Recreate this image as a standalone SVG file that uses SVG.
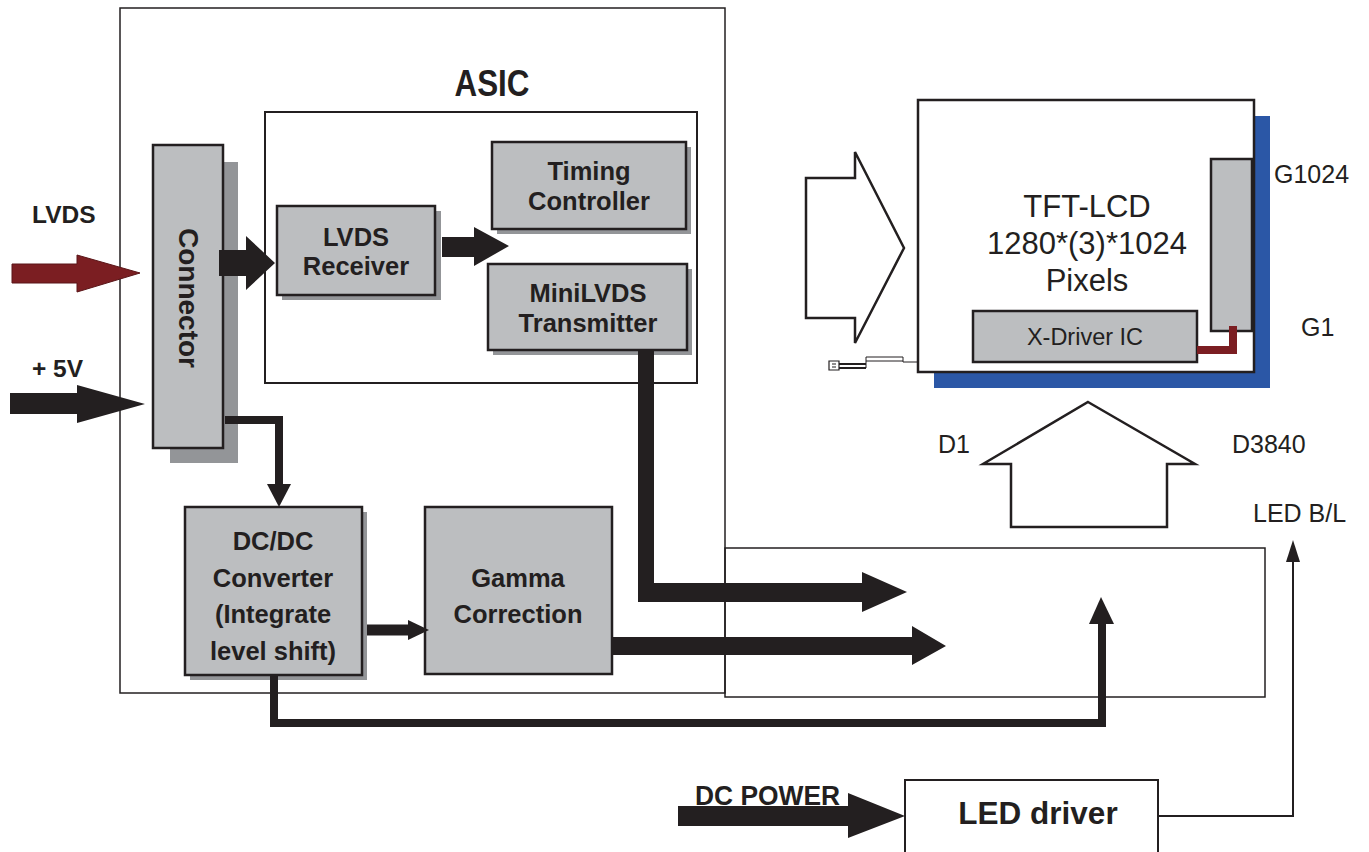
<svg xmlns="http://www.w3.org/2000/svg" width="1369" height="852" viewBox="0 0 1369 852">
<style>
.frame{fill:none;stroke:#231f20;stroke-width:1.5}
.box{fill:#bcbec0;stroke:#231f20;stroke-width:2.5}
.sh{fill:#939598}
.bt{font-family:"Liberation Sans",Arial,sans-serif;font-weight:bold;font-size:25.5px;fill:#231f20;text-anchor:middle}
.rt{font-family:"Liberation Sans",Arial,sans-serif;font-size:25px;fill:#231f20}
.blk{fill:#231f20}
.ln{fill:none;stroke:#231f20;stroke-linejoin:miter}
.outl{fill:#fff;stroke:#231f20;stroke-width:2.5;stroke-linejoin:miter}
</style>
<rect width="1369" height="852" fill="#fff"/>

<g id="outer">
<rect class="frame" x="120" y="8" width="605" height="685"/>
<rect class="frame" x="725" y="548" width="540" height="149"/>
</g>

<g id="asic">
<text class="bt" x="492" y="96" style="font-size:36px" textLength="75" lengthAdjust="spacingAndGlyphs">ASIC</text>
<rect x="265" y="112" width="432" height="271" fill="none" stroke="#231f20" stroke-width="2"/>
</g>

<g id="connector">
<rect class="sh" x="170" y="162" width="68" height="301"/>
<rect class="box" x="153" y="145" width="70" height="303"/>
<text class="bt" style="font-size:28px" transform="translate(188,298) rotate(90)" dominant-baseline="central">Connector</text>
</g>

<g id="lvds-receiver">
<rect class="sh" x="282" y="211" width="159" height="89"/>
<rect class="box" x="277" y="206" width="158" height="89"/>
<text class="bt" x="356" y="246">LVDS</text>
<text class="bt" x="356" y="275">Receiver</text>
</g>

<g id="timing-controller">
<rect class="sh" x="497" y="147" width="194" height="87"/>
<rect class="box" x="492" y="142" width="194" height="87"/>
<text class="bt" x="589" y="180">Timing</text>
<text class="bt" x="589" y="210">Controller</text>
</g>

<g id="minilvds">
<rect class="sh" x="493" y="269" width="199" height="86"/>
<rect class="box" x="488" y="264" width="199" height="86"/>
<text class="bt" x="588" y="302">MiniLVDS</text>
<text class="bt" x="588" y="332">Transmitter</text>
</g>

<g id="dcdc">
<rect class="sh" x="190" y="512" width="177" height="168"/>
<rect class="box" x="185" y="507" width="177" height="168"/>
<text class="bt" x="273" y="550">DC/DC</text>
<text class="bt" x="273" y="587">Converter</text>
<text class="bt" x="273" y="623">(Integrate</text>
<text class="bt" x="273" y="660">level shift)</text>
</g>

<g id="gamma">
<rect class="box" x="425" y="507" width="187" height="167"/>
<text class="bt" x="518" y="587">Gamma</text>
<text class="bt" x="518" y="623">Correction</text>
</g>

<g id="tft-lcd">
<rect x="934" y="116" width="336" height="272" fill="#2b57a6"/>
<rect x="918" y="100" width="336" height="272" fill="#fff" stroke="#231f20" stroke-width="2.5"/>
<text class="rt" x="1087" y="217" style="font-size:31px;text-anchor:middle">TFT-LCD</text>
<text class="rt" x="1087" y="254" style="font-size:31px;text-anchor:middle">1280*(3)*1024</text>
<text class="rt" x="1087" y="291" style="font-size:31px;text-anchor:middle">Pixels</text>
<rect class="box" x="1211" y="159" width="41" height="172"/>
<rect class="box" x="973" y="311" width="224" height="51"/>
<text class="rt" x="1085" y="345" style="font-size:23.5px;text-anchor:middle">X-Driver IC</text>
<path d="M1197 350 H1233 V326" fill="none" stroke="#7b1e22" stroke-width="8"/>
<g fill="none" stroke="#231f20">
<path d="M839 364 H866 M839 368 H866" stroke-width="2"/>
<path d="M866 368 V357 H903 V362 H918 M866 361 H903" stroke-width="1"/>
<path d="M829 361 H839 V370 H829 Z M832 364 H836 M832 367 H836" stroke-width="1.2"/>
</g>
</g>

<g id="lcd-labels">
<text class="rt" x="1274" y="183">G1024</text>
<text class="rt" x="1301" y="336">G1</text>
<text class="rt" x="938" y="453">D1</text>
<text class="rt" x="1232" y="453">D3840</text>
<text class="rt" x="1253" y="522">LED B/L</text>
</g>

<g id="big-arrows">
<polygon class="outl" points="806,178 855,178 855,152 904,248 855,343 855,318 806,318"/>
<polygon class="outl" points="1088,402 1195,464 1167,464 1167,527 1011,527 1011,464 983,464"/>
</g>

<g id="led-driver">
<rect x="905" y="780" width="253" height="80" fill="#fff" stroke="#231f20" stroke-width="2"/>
<text class="bt" x="1038" y="824" style="font-size:31.5px">LED driver</text>
</g>

<g id="inputs">
<text class="bt" x="32" y="223" style="text-anchor:start;font-size:24.5px">LVDS</text>
<text class="bt" x="32" y="377" style="text-anchor:start;font-size:24.5px">+ 5V</text>
<text class="bt" x="695" y="805" style="text-anchor:start;font-size:27px" textLength="145" lengthAdjust="spacingAndGlyphs">DC POWER</text>
</g>

<g id="connectors">
<polygon points="12,264 77,264 77,255 140,273 77,292 77,283 12,283" fill="#7b1e22" stroke="#5a1518" stroke-width="1"/>
<polygon class="blk" points="10,393 77,393 77,385 145,404 77,423 77,414 10,414"/>
<polygon class="blk" points="219,250 246,250 246,236 275,263 246,290 246,276 219,276"/>
<polygon class="blk" points="442,237 474,237 474,227 509,246 474,266 474,257 442,257"/>
<polyline class="ln" points="225,420 279,420 279,486" stroke-width="8"/>
<polygon class="blk" points="267,484 291,484 279,507"/>
<polygon class="blk" points="638,350 654,350 654,583 862,583 862,572 907,592 862,612 862,602 638,602"/>
<polygon class="blk" points="612,637 912,637 912,626 946,646 912,665 912,655 612,655"/>
<line class="ln" x1="367" y1="630" x2="410" y2="630" stroke-width="11"/>
<polygon class="blk" points="408,620 429,630 408,640"/>
<polyline class="ln" points="274,675 274,723 1102,723 1102,620" stroke-width="8"/>
<polygon class="blk" points="1089,624 1114,624 1101,597"/>
<polyline class="ln" points="1158,816 1293,816 1293,555" stroke-width="2"/>
<polygon class="blk" points="1286,562 1300,562 1293,540"/>
<polygon class="blk" points="678,806 848,806 848,793 905,816 848,838 848,826 678,826"/>
</g>
</svg>
